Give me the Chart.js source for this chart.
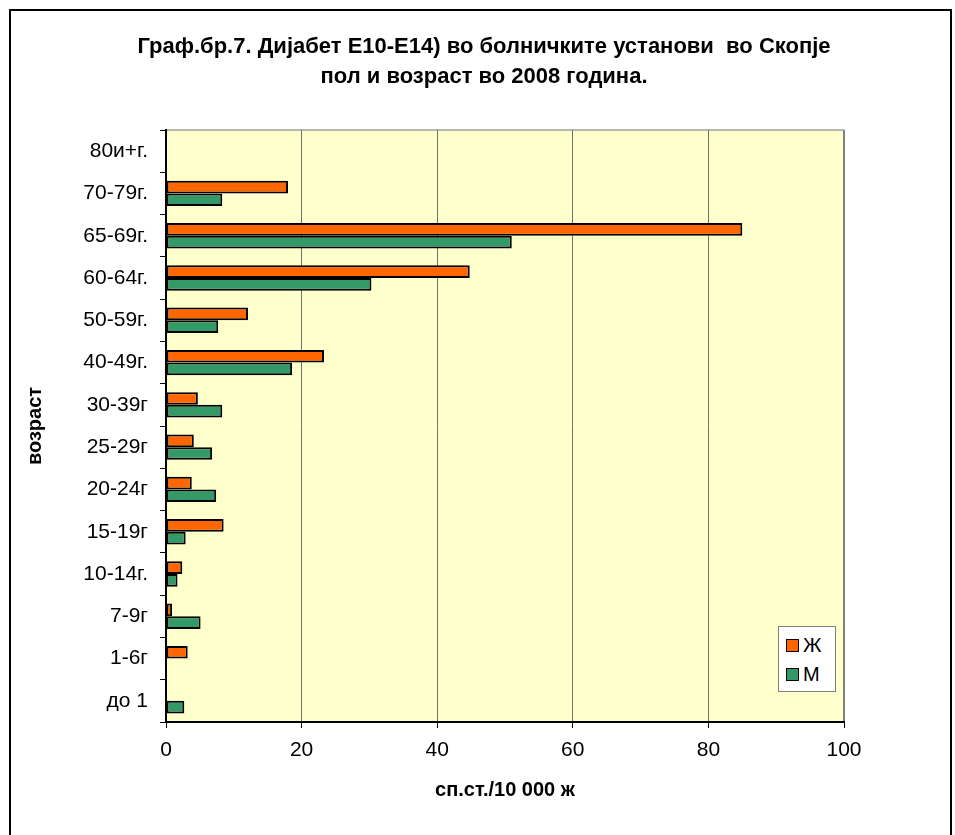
<!DOCTYPE html>
<html>
<head>
<meta charset="utf-8">
<script src="https://cdn.jsdelivr.net/npm/chart.js@4/dist/chart.umd.min.js"></script>
<style>
  body { margin: 0; background: #fff; }
  #frame {
    position: absolute; left: 9px; top: 9px; width: 943px; height: 840px;
    border: 2px solid #000; box-sizing: border-box;
  }
  #wrap { position: absolute; left: 0; top: 0; width: 955px; height: 835px; }
  #legend {
    position: absolute; left: 778px; top: 626px; width: 58px; height: 66px;
    background: #fff; border: 1px solid #808080; box-sizing: border-box;
    font: 20px "Liberation Sans", Arial, sans-serif; color: #000;
    padding: 4px 0 0 7px;
  }
  #legend div { height: 29px; line-height: 29px; display: flex; align-items: center; }
  #legend span.sw { width: 11px; height: 11px; border: 1.5px solid #000; margin-right: 4px; display: inline-block; }
</style>
</head>
<body>
<div id="frame"></div>
<div id="wrap"><canvas id="c" width="955" height="835"></canvas></div>
<div id="legend"></div>
<script>
// age groups, top to bottom
const ageGroups = ['80и+г.', '70-79г.', '65-69г.', '60-64г.', '50-59г.', '40-49г.', '30-39г',
  '25-29г', '20-24г', '15-19г', '10-14г.', '7-9г', '1-6г', 'до 1'];
// rates per 10 000
const femaleRates = [0, 18.0, 85.0, 44.8, 12.1, 23.3, 4.7, 4.1, 3.8, 8.5, 2.4, 0.9, 3.2, 0];
const maleRates = [0, 8.3, 51.0, 30.3, 7.7, 18.6, 8.3, 6.8, 7.4, 2.9, 1.7, 5.1, 0, 2.7];
const seriesNames = ['Ж', 'М'];
const xTicks = [0, 20, 40, 60, 80, 100];
const titleLines = ['Граф.бр.7. Дијабет Е10-Е14) во болничките установи  во Скопје',
    'пол и возраст во 2008 година.'];

const FONT = '"Liberation Sans", Arial, sans-serif';

// plot area background + gray frame, and the chart title
const plotBg = {
    id: 'plotBg',
    beforeDraw(chart) {
        const a = chart.chartArea;
        const ctx = chart.ctx;
        ctx.save();
        ctx.fillStyle = '#FFFFCC';
        ctx.fillRect(a.left, a.top, a.right - a.left, a.bottom - a.top);
        ctx.strokeStyle = '#a0a0a0';
        ctx.lineWidth = 1.5;
        ctx.beginPath();
        ctx.moveTo(a.left, a.top);
        ctx.lineTo(a.right, a.top);
        ctx.stroke();
        ctx.strokeStyle = '#808080';
        ctx.lineWidth = 2;
        ctx.beginPath();
        ctx.moveTo(a.right, a.top);
        ctx.lineTo(a.right, a.bottom);
        ctx.stroke();
        ctx.restore();
    },
    afterDraw(chart) {
        const ctx = chart.ctx;
        ctx.save();
        ctx.fillStyle = '#000';
        ctx.font = 'bold 22px ' + FONT;
        ctx.textAlign = 'center';
        ctx.textBaseline = 'middle';
        ctx.fillText(titleLines[0], 484, 47);
        ctx.fillText(titleLines[1], 484, 77);
        ctx.restore();
    }
};

const chart = new Chart(document.getElementById('c'), {
    type: 'bar',
    data: {
        labels: ageGroups,
        datasets: [
            { label: seriesNames[0], data: femaleRates, backgroundColor: '#FF6600' },
            { label: seriesNames[1], data: maleRates, backgroundColor: '#339966' }
        ]
    },
    options: {
        indexAxis: 'y',
        responsive: false,
        animation: false,
        layout: { padding: { left: 10, right: 111, top: 130, bottom: 33 } },
        datasets: {
            bar: {
                borderColor: '#000',
                borderWidth: 2,
                borderSkipped: false,
                categoryPercentage: 0.6,
                barPercentage: 1
            }
        },
        plugins: {
            legend: { display: false },
            tooltip: { enabled: false },
            title: { display: false }
        },
        scales: {
            x: {
                min: 0, max: 100,
                afterBuildTicks(axis) { axis.ticks = xTicks.map(v => ({ value: v })); },
                afterFit(axis) { axis.height = 80; },
                grid: {
                    color: ctx => (ctx.tick && (ctx.tick.value === 0 || ctx.tick.value === 100)) ? 'rgba(0,0,0,0)' : '#707070',
                    lineWidth: 1,
                    tickColor: '#000',
                    tickLength: 6
                },
                border: { color: '#000', width: 2 },
                ticks: { color: '#000', font: { family: FONT, size: 21 }, padding: 10 },
                title: {
                    display: true, text: 'сп.ст./10 000 ж', color: '#000',
                    font: { family: FONT, size: 20, weight: 'bold' }, padding: 0
                }
            },
            y: {
                afterFit(axis) { axis.width = 156; },
                grid: { drawOnChartArea: false, tickColor: '#000', tickLength: 6, offset: true },
                border: { color: '#000', width: 2 },
                ticks: { color: '#000', font: { family: FONT, size: 21 }, padding: 12 },
                title: {
                    display: true, text: 'возраст', color: '#000',
                    font: { family: FONT, size: 20, weight: 'bold' }, padding: { top: 13, bottom: 0 }
                }
            }
        }
    },
    plugins: [plotBg]
});

// legend box
const colors = ['#FF6600', '#339966'];
const legendEl = document.getElementById('legend');
seriesNames.forEach((name, i) => {
    const row = document.createElement('div');
    row.innerHTML = '<span class="sw" style="background:' + colors[i] + '"></span>' + name;
    legendEl.appendChild(row);
});
</script>
</body>
</html>
